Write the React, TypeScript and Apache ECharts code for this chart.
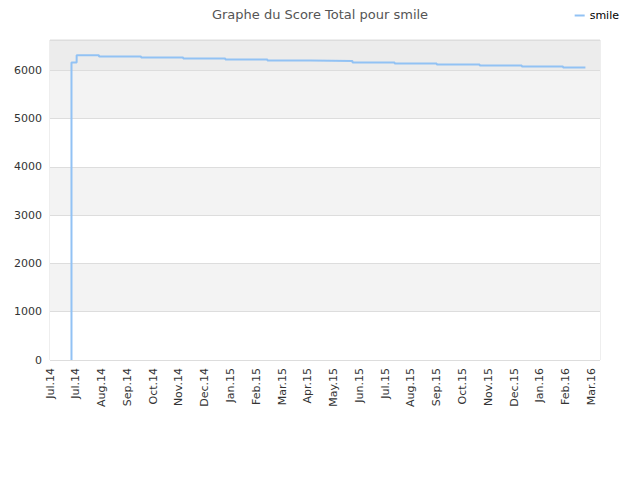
import React, { useEffect, useRef } from 'react';
import * as echarts from 'echarts';

// x values are days counted from 1 July 2014
const tickLabels = [
    'Jul.14', 'Jul.14', 'Aug.14', 'Sep.14', 'Oct.14', 'Nov.14', 'Dec.14',
    'Jan.15', 'Feb.15', 'Mar.15', 'Apr.15', 'May.15', 'Jun.15', 'Jul.15',
    'Aug.15', 'Sep.15', 'Oct.15', 'Nov.15', 'Dec.15', 'Jan.16', 'Feb.16', 'Mar.16',
];
const days = [25, 25, 31, 57, 106, 155, 204, 253, 303, 352, 401, 450, 500, 549, 597, 623];
const scores = [0, 6166, 6315, 6290, 6269, 6248, 6228, 6207, 6193, 6166, 6145, 6120, 6100, 6079, 6062, 6062];
const seriesName = 'smile';

export default function App() {
    const chartRef = useRef<HTMLDivElement>(null);

    useEffect(() => {
        const chart = echarts.init(chartRef.current!, null, { renderer: 'svg' });
        const font = 'DejaVu Sans';

        chart.setOption({
            animation: false,
            textStyle: { fontFamily: font },
            title: {
                text: 'Graphe du Score Total pour smile',
                left: 'center',
                top: 3,
                textStyle: { color: '#555', fontSize: 13, fontWeight: 'normal', fontFamily: font },
            },
            legend: {
                right: 16,
                top: 5,
                itemWidth: 10,
                itemHeight: 2,
                icon: 'rect',
                textStyle: { color: '#000', fontSize: 11, fontFamily: font },
                data: [seriesName],
            },
            grid: {
                left: 50,
                right: 40,
                top: 40,
                bottom: 120,
                show: true,
                borderColor: '#ddd',
                borderWidth: 1,
                backgroundColor: 'transparent',
            },
            xAxis: {
                type: 'value',
                min: 0,
                max: 640,
                interval: 30,
                axisLine: { show: false },
                axisTick: { show: false },
                splitLine: { show: false },
                axisLabel: {
                    rotate: 90,
                    color: '#333',
                    fontSize: 11,
                    fontFamily: font,
                    showMaxLabel: false,
                    margin: 8,
                    formatter: (v: number) => tickLabels[Math.round(v / 30)] ?? '',
                },
            },
            yAxis: {
                type: 'value',
                min: 0,
                max: 6630,
                interval: 1000,
                axisLine: { show: false },
                axisTick: { show: false },
                axisLabel: {
                    color: '#333',
                    fontSize: 11,
                    fontFamily: font,
                    showMaxLabel: false,
                    margin: 8,
                    formatter: (v: number) => String(v),
                },
                splitLine: { lineStyle: { color: '#ddd' } },
                splitArea: {
                    show: true,
                    areaStyle: {
                        color: ['#ffffff', '#f3f3f3', '#ffffff', '#f3f3f3', '#ffffff', '#f3f3f3', '#ececec'],
                    },
                },
            },
            series: [
                {
                    name: seriesName,
                    type: 'line',
                    step: 'end',
                    showSymbol: false,
                    color: '#92c2f4',
                    lineStyle: { width: 2, color: '#92c2f4' },
                    data: days.map((d, i) => [d, scores[i]]),
                },
            ],
        });

        return () => {
            chart.dispose();
        };
    }, []);

    return <div ref={chartRef} style={{ width: 640, height: 480, margin: -8 }} />;
}
